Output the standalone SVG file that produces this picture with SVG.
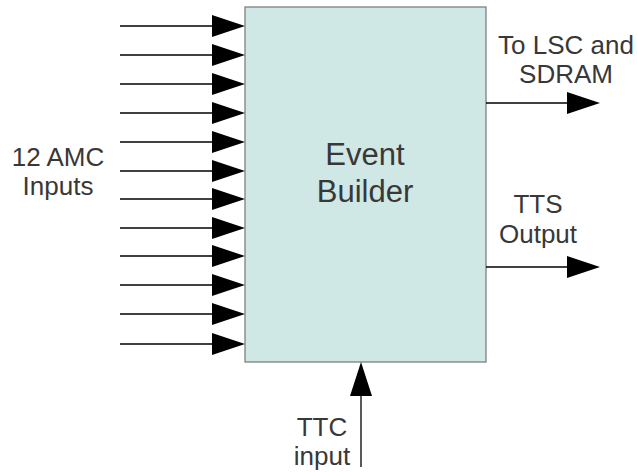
<svg xmlns="http://www.w3.org/2000/svg" width="637" height="472" viewBox="0 0 637 472">
<defs>
<style>
.lbl{font-family:"Liberation Sans",Arial,sans-serif;font-size:26px;fill:#383838;text-anchor:middle}
.big{font-family:"Liberation Sans",Arial,sans-serif;font-size:31px;fill:#383838;text-anchor:middle}
.ln{stroke:#000000;stroke-width:1.3;fill:none}
.ah{fill:#000000}
</style>
</defs>
<rect width="637" height="472" fill="#ffffff"/>
<g id="event-builder">
<rect x="245" y="7" width="241" height="355" fill="#cfe7e5" stroke="#808080" stroke-width="1.3"/>
<text class="big" x="365" y="165">Event</text>
<text class="big" x="365" y="202">Builder</text>
</g>
<g id="amc-label">
<text class="lbl" x="58" y="166">12 AMC</text>
<text class="lbl" x="58" y="195">Inputs</text>
</g>
<g id="lsc-label">
<text class="lbl" x="566" y="54">To LSC and</text>
<text class="lbl" x="566" y="83">SDRAM</text>
</g>
<g id="tts-label">
<text class="lbl" x="538" y="213">TTS</text>
<text class="lbl" x="538" y="243">Output</text>
</g>
<g id="ttc-label">
<text class="lbl" x="322" y="436">TTC</text>
<text class="lbl" x="322" y="465">input</text>
</g>
<g id="connectors">
<g id="inputs">
<line class="ln" x1="120" y1="26" x2="214" y2="26"/><polygon class="ah" points="212,15 245,26 212,37"/>
<line class="ln" x1="120" y1="55" x2="214" y2="55"/><polygon class="ah" points="212,44 245,55 212,66"/>
<line class="ln" x1="120" y1="84" x2="214" y2="84"/><polygon class="ah" points="212,73 245,84 212,95"/>
<line class="ln" x1="120" y1="113" x2="214" y2="113"/><polygon class="ah" points="212,102 245,113 212,124"/>
<line class="ln" x1="120" y1="142" x2="214" y2="142"/><polygon class="ah" points="212,131 245,142 212,153"/>
<line class="ln" x1="120" y1="171" x2="214" y2="171"/><polygon class="ah" points="212,160 245,171 212,182"/>
<line class="ln" x1="120" y1="199" x2="214" y2="199"/><polygon class="ah" points="212,188 245,199 212,210"/>
<line class="ln" x1="120" y1="228" x2="214" y2="228"/><polygon class="ah" points="212,217 245,228 212,239"/>
<line class="ln" x1="120" y1="256" x2="214" y2="256"/><polygon class="ah" points="212,245 245,256 212,267"/>
<line class="ln" x1="120" y1="285" x2="214" y2="285"/><polygon class="ah" points="212,274 245,285 212,296"/>
<line class="ln" x1="120" y1="314" x2="214" y2="314"/><polygon class="ah" points="212,303 245,314 212,325"/>
<line class="ln" x1="120" y1="344" x2="214" y2="344"/><polygon class="ah" points="212,333 245,344 212,355"/>
</g>
<line class="ln" x1="486" y1="103" x2="569" y2="103"/><polygon class="ah" points="567,92 600,103 567,114"/>
<line class="ln" x1="486" y1="267" x2="569" y2="267"/><polygon class="ah" points="567,256 600,267 567,278"/>
<line class="ln" x1="361" y1="467" x2="361" y2="394"/><polygon class="ah" points="350,396 361,362 372,396"/>
</g>
</svg>
